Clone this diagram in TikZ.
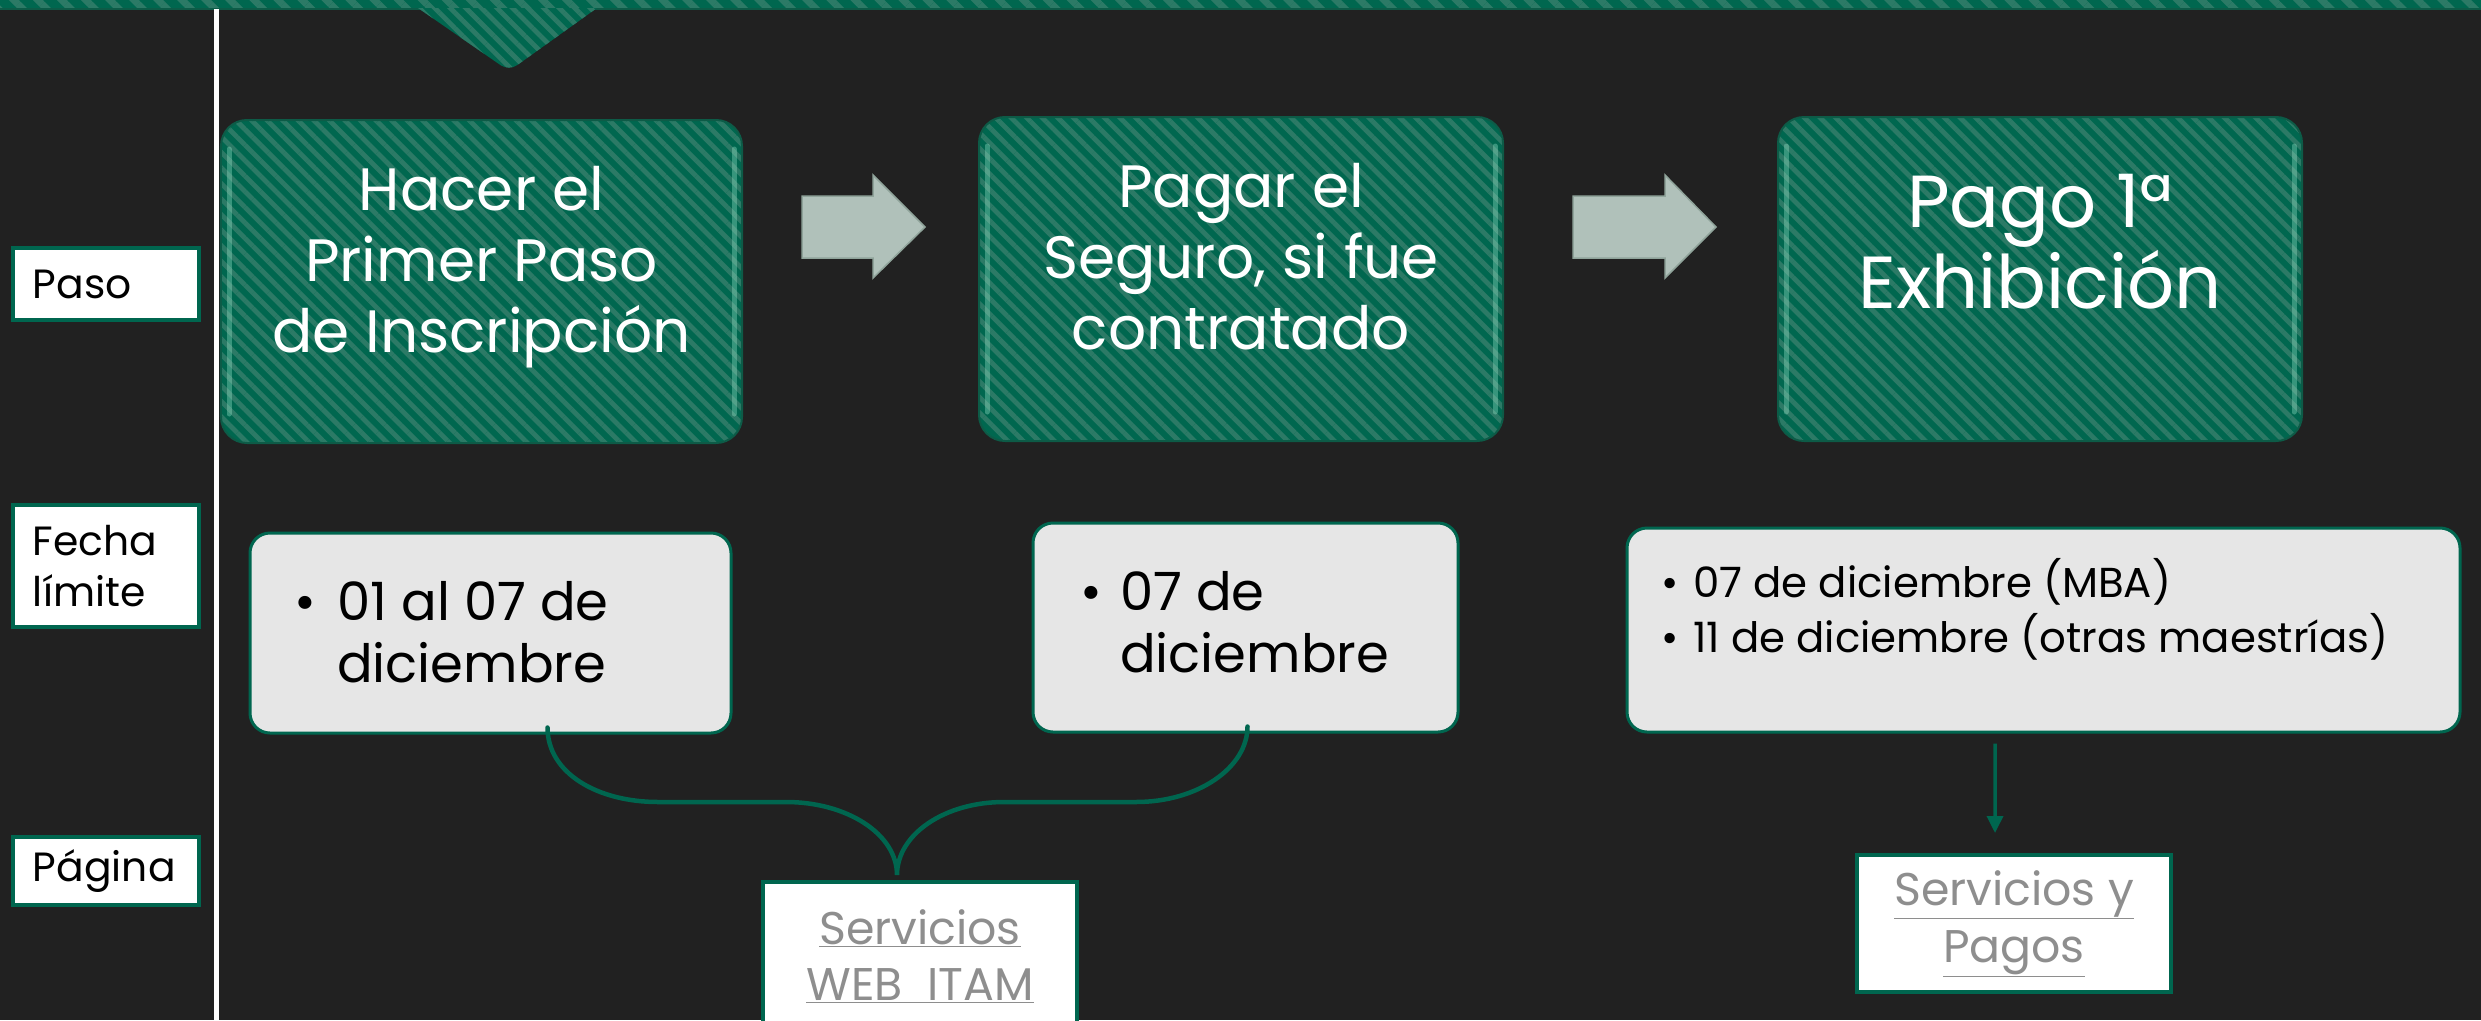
\documentclass[tikz,border=0pt]{standalone}
\usepackage{fontspec}
\setmainfont{Poppins}
\usetikzlibrary{patterns.meta,arrows.meta,calc}
\definecolor{bg}{HTML}{212121}
\definecolor{gdark}{HTML}{00674F}
\definecolor{gstripe}{HTML}{2C7A66}
\definecolor{gedge}{HTML}{0D5B47}
\definecolor{gline}{HTML}{00664F}
\definecolor{mint}{HTML}{9FEBD0}
\definecolor{dfill}{HTML}{E6E6E6}
\definecolor{arrfill}{HTML}{B0C1BA}
\definecolor{arredge}{HTML}{8FA39A}
\definecolor{linkgray}{HTML}{8E8E8E}
\begin{document}
\begin{tikzpicture}[x=1bp,y=-1bp,
  stripe/.style={preaction={fill=gdark}, pattern={Lines[angle=-45,distance=11bp,line width=4.8bp]}, pattern color=gstripe},
  bstripe/.style={preaction={fill=gdark}, pattern={Lines[angle=-45,distance=17bp,line width=7bp]}, pattern color=gstripe},
  gbox/.style={stripe, rounded corners=26bp, draw=gedge, line width=2bp, inner sep=0pt},
  gtxt/.style={text=white, align=center, inner sep=0pt, font=\fontsize{60}{71}\selectfont},
  hl/.style={draw=mint, line width=5bp, opacity=0.35, line cap=round},
  dbox/.style={fill=dfill, draw=gline, line width=3bp, rounded corners=20bp, inner sep=0pt},
  dtxt/.style={text=black, align=left, inner sep=0pt, font=\fontsize{53}{62}\selectfont},
  lbox/.style={fill=white, draw=gline, line width=4bp, text width=146bp, inner xsep=20bp, inner ysep=0pt, align=left, text=black, font=\fontsize{41}{52}\selectfont},
  lnk/.style={fill=white, draw=gline, line width=4bp, inner sep=0pt, align=center, text=linkgray, font=\fontsize{46}{57}\selectfont},
  blockarrow/.style={fill=arrfill, draw=arredge, line width=1.5bp, line join=miter},
  conn/.style={draw=gline, line width=4.5bp, line cap=round}
]
\useasboundingbox (0,0) rectangle (2481,1020);
\fill[bg] (0,0) rectangle (2481,1020);

% top banner and its pointer
\path[bstripe] (-5,-5) rectangle (2486,9);
\draw[gedge, line width=2bp] (0,9) -- (2481,9);
\path[stripe] (418,8) [rounded corners=10bp] -- (509,71) [sharp corners] -- (597,8) -- cycle;

% vertical separator
\draw[white, line width=5bp] (216,9) -- (216,1020);

% row labels
\node[lbox, minimum height=72bp] (lpaso) at (106,284) {Paso};
\node[lbox, minimum height=122bp] (lfecha) at (106,566) {Fecha\\límite};
\node[lbox, minimum height=68bp] (lpag) at (106,871) {Página};

% green step boxes
\node[gbox, minimum width=521bp, minimum height=323bp] (g1) at (481.5,281.5) {};
\node[gbox, minimum width=524bp, minimum height=324bp] (g2) at (1241,279) {};
\node[gbox, minimum width=524bp, minimum height=324bp] (g3) at (2040,279) {};
\foreach \g in {g1,g2,g3}{
  \draw[hl] ([xshift=9bp,yshift=-30bp]\g.north west) -- ([xshift=9bp,yshift=30bp]\g.south west);
  \draw[hl] ([xshift=-9bp,yshift=-30bp]\g.north east) -- ([xshift=-9bp,yshift=30bp]\g.south east);
}
\node[gtxt, anchor=base] (g1t) at (481.5,352) {Hacer el\\Primer Paso\\de Inscripción};
\node[gtxt, anchor=base] (g2t) at (1241,349) {Pagar el\\Seguro, si fue\\contratado};
\node[gtxt, anchor=base, font=\fontsize{74}{81}\selectfont] (g3t) at (2040,308) {Pago 1ª\\Exhibición};

% block arrows between steps
\path[blockarrow] (802,196) -- (873,196) -- (873,175) -- (925,227) -- (873,278) -- (873,258) -- (802,258) -- cycle;
\path[blockarrow] (1573,196) -- (1665,196) -- (1665,175) -- (1716,227) -- (1665,278) -- (1665,258) -- (1573,258) -- cycle;

% date boxes
\node[dbox, minimum width=481bp, minimum height=200bp] (d1) at (490.5,633) {};
\node[dbox, minimum width=425bp, minimum height=209bp] (d2) at (1245.5,627.5) {};
\node[dbox, minimum width=833bp, minimum height=204bp] (d3) at (2043.5,630) {};
\node[dtxt, anchor=base west] (d1t) at (294,682) {\makebox[43bp][l]{•}01 al 07 de\\\hspace*{43bp}diciembre};
\node[dtxt, anchor=base west] (d2t) at (1080,672) {\makebox[40bp][l]{•}07 de\\\hspace*{40bp}diciembre};
\node[dtxt, anchor=base west, font=\fontsize{42}{55}\selectfont] (d3t) at (1661,652) {\makebox[32bp][l]{•}07 de diciembre (MBA)\\\makebox[32bp][l]{•}11 de diciembre (otras maestrías)};

% link boxes
\node[lnk, minimum width=314bp, minimum height=148bp] (l1) at (920,956) {\underline{Servicios}\\\underline{WEB~~ITAM}};
\node[lnk, minimum width=314bp, minimum height=137bp] (l2) at (2014,923.5) {\underline{Servicios y}\\\underline{Pagos}};

% brace connector
\coordinate (bs1) at ([xshift=57bp,yshift=7bp]d1.south);
\coordinate (bs2) at ([xshift=2bp,yshift=7bp]d2.south);
\coordinate (btip) at ([xshift=-23bp,yshift=5bp]l1.north);
\draw[conn] (bs1) .. controls +(0,46) and +(-60,0) .. (658,802) -- (786,802)
  .. controls +(61,0) and +(0,-41) .. (btip)
  .. controls +(0,-41) and +(-59,0) .. (1004,802) -- (1136,802)
  .. controls +(62,0) and +(0,41) .. (bs2);

% arrow to payments page
\draw[conn, line width=3.5bp, line cap=butt, -{Triangle[length=17bp,width=16bp]}] ([xshift=-48.5bp,yshift=-10bp]d3.south) -- ([xshift=-19bp,yshift=20bp]l2.north);
\end{tikzpicture}
\end{document}
